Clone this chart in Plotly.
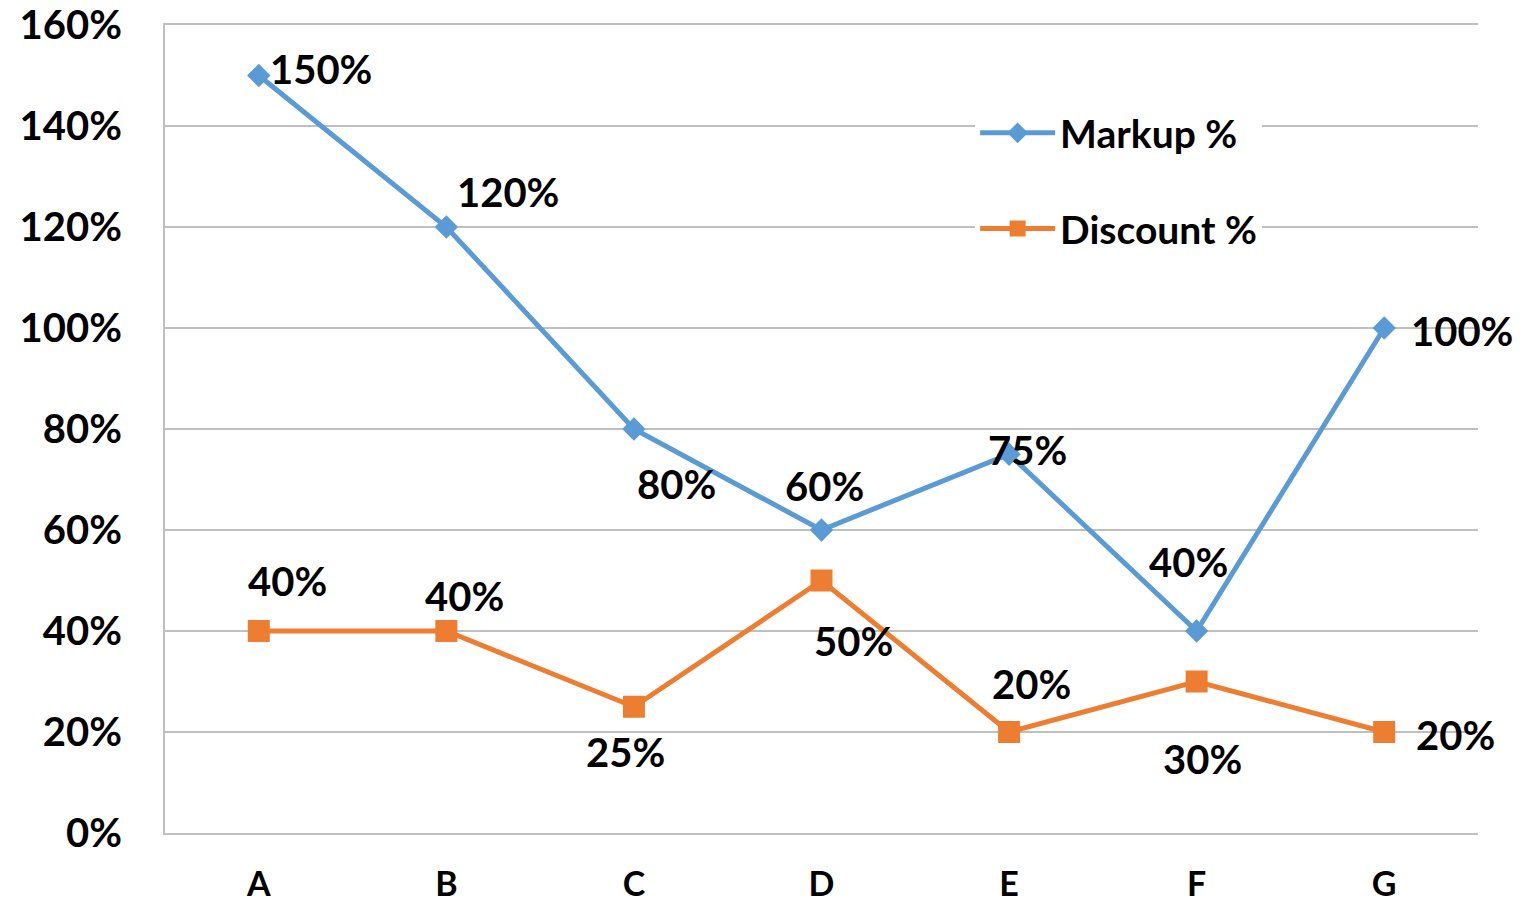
import plotly.graph_objects as go

categories = ["A", "B", "C", "D", "E", "F", "G"]
markup = [150, 120, 80, 60, 75, 40, 100]
discount = [40, 40, 25, 50, 20, 30, 20]
y_ticks = [0, 20, 40, 60, 80, 100, 120, 140, 160]
y_tick_labels = [f"{v}%" for v in y_ticks]

# label pixel offsets (dx, dy) relative to each point
markup_off = [(62, 7), (62, 35), (43, -55), (3, 44), (18, 4), (-8, 69), (78, -3)]
discount_off = [(29, 50), (18, 35), (-8, -45), (32, -60), (22, 48), (6, -77), (71, -3)]

BLUE = "#5B9BD5"
ORANGE = "#ED7D31"
FONT = dict(family="Lato", size=40, color="#000000", weight=700)

fig = go.Figure()
fig.add_trace(go.Scatter(
    x=categories, y=markup, mode="lines+markers", name="Markup %",
    legendgroup="m",
    line=dict(color=BLUE, width=5),
    marker=dict(symbol="diamond", size=18, color=BLUE),
))
fig.add_trace(go.Scatter(
    x=categories, y=discount, mode="lines+markers", name="Discount %",
    legendgroup="d",
    line=dict(color=ORANGE, width=5),
    marker=dict(symbol="square", size=22, color=ORANGE),
))

for vals, offs in ((markup, markup_off), (discount, discount_off)):
    for c, v, (dx, dy) in zip(categories, vals, offs):
        fig.add_annotation(x=c, y=v, text=f"{v}%", showarrow=False,
                           xshift=dx, yshift=dy, font=FONT)

# page body has an 8px margin, so the figure is sized to fit inside it
fig.update_layout(
    width=1521, height=892,
    margin=dict(l=157, r=51, t=17, b=67, autoexpand=False),
    paper_bgcolor="white", plot_bgcolor="white",
    font=FONT,
    showlegend=True,
    legend=dict(
        x=0.617, y=0.906, xanchor="left", yanchor="top",
        bgcolor="white", borderwidth=0,
        font=dict(family="Lato", size=39, color="#000000", weight=700),
        tracegroupgap=42, itemwidth=75,
    ),
    xaxis=dict(
        range=[-0.5, 6.5], showgrid=False, automargin=False,
        showline=True, linecolor="#BFBFBF", linewidth=2, mirror=True,
        ticks="", ticklabelstandoff=20, ticklabeloverflow="allow",
        tickfont=dict(family="Lato", size=34, color="#000000", weight=700),
    ),
    yaxis=dict(
        range=[0, 160], tickvals=y_ticks, ticktext=y_tick_labels,
        showgrid=True, gridcolor="#BFBFBF", gridwidth=2, automargin=False,
        showline=True, linecolor="#BFBFBF", linewidth=2,
        ticks="", ticklabelstandoff=33, zeroline=False,
        ticklabeloverflow="allow",
        tickfont=dict(family="Lato", size=40, color="#000000", weight=700),
    ),
)

fig.write_html("out.html")
